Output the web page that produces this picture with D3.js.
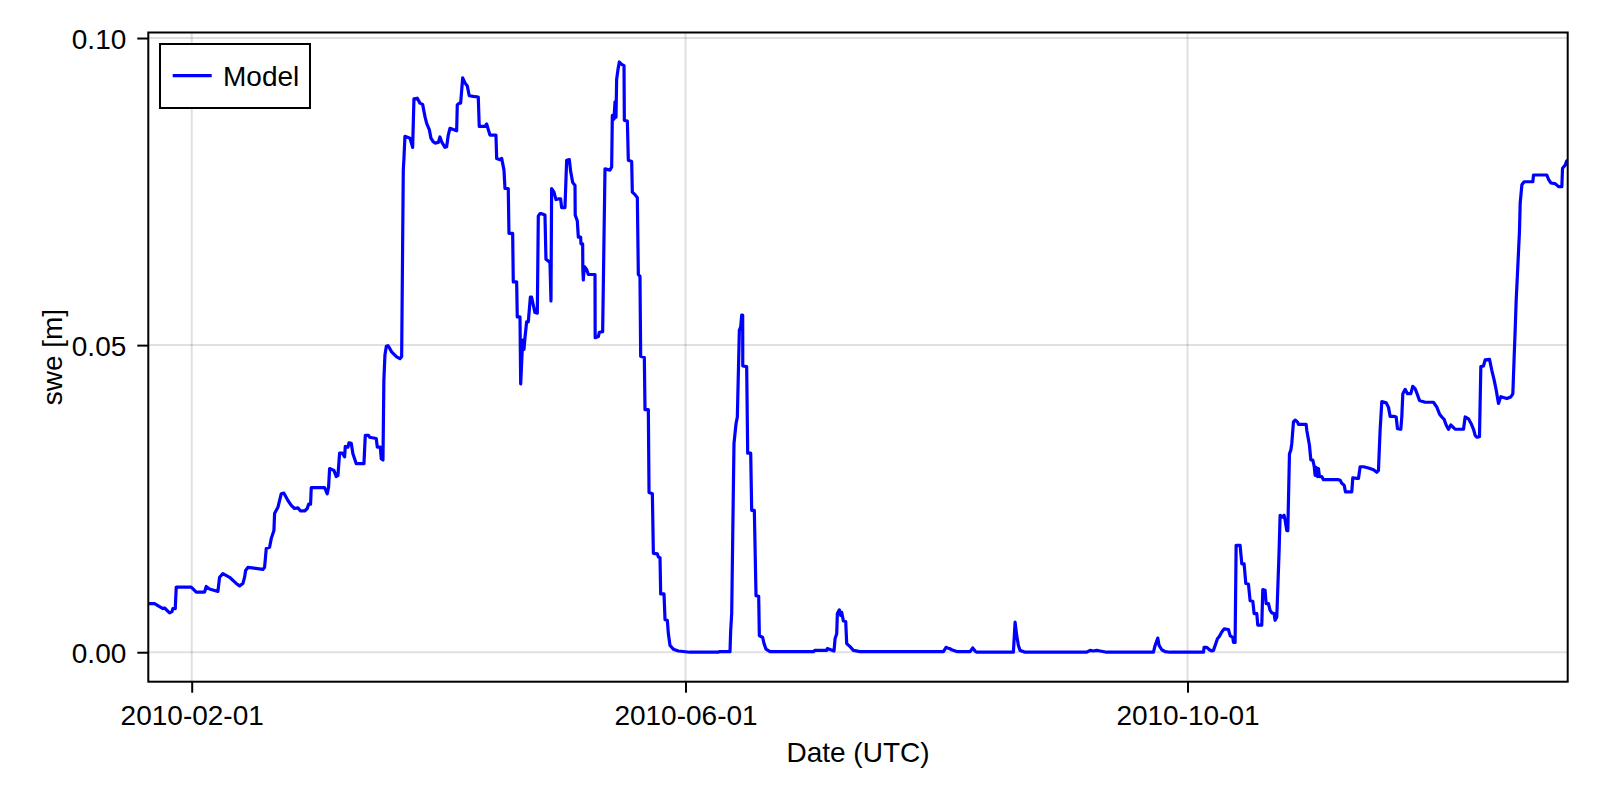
<!DOCTYPE html>
<html>
<head>
<meta charset="utf-8">
<script src="https://cdn.jsdelivr.net/npm/d3@7"></script>
<style>
  body { margin: 0; background: #ffffff; }
  svg { display: block; }
  text { font-family: "Liberation Sans", Arial, Helvetica, sans-serif; fill: #000; }
</style>
</head>
<body>
<svg id="chart" width="1600" height="800"></svg>
<script>
// ---------------- data ----------------
const startDate = "2010-02-01";           // day offsets below are counted from this date (UTC)
const dayOffset = [
  -10.55,-9.03,-7.0,-6.59,-5.38,-4.81,-4.57,-4.0,-3.76,-0.11,
  1.1,3.13,3.53,4.34,6.37,6.77,7.58,9.2,10.82,11.63,
  12.45,12.85,13.1,13.66,17.3,17.71,18.12,18.93,19.33,19.98,
  20.14,20.95,21.76,22.41,23.38,24.19,25.0,25.81,26.46,27.44,
  28.08,28.41,28.89,29.05,32.3,32.94,33.27,33.51,34.56,35.13,
  35.54,35.94,36.59,37.16,37.32,37.97,38.21,38.78,39.18,39.99,
  41.86,42.18,42.99,43.24,44.85,45.1,45.83,46.07,46.48,46.7,
  46.96,47.3,47.69,48.1,48.58,49.8,50.61,51.02,51.42,51.58,
  51.82,53.04,53.69,54.01,54.82,55.47,56.12,56.69,57.1,57.74,
  58.14,58.71,59.12,59.93,60.33,60.74,61.55,61.96,62.35,62.76,
  63.57,64.39,64.54,65.02,65.36,65.85,66.41,66.97,67.45,68.42,
  69.64,69.88,71.27,71.68,72.07,72.48,73.94,74.11,74.91,75.33,
  75.89,76.13,76.93,77.1,78.0,78.15,78.97,79.12,79.78,79.95,
  80.43,80.75,80.99,81.4,81.8,82.3,82.6,83.02,83.42,83.99,
  84.23,84.64,85.04,85.85,86.09,86.66,87.07,87.31,87.47,88.04,
  88.53,89.09,89.66,89.9,90.71,91.12,91.77,92.09,92.58,93.15,
  93.2,93.71,93.96,94.52,94.6,95.01,95.05,95.17,95.41,95.98,
  96.39,98.01,98.05,98.82,99.06,99.87,100.44,101.65,102.06,102.22,
  102.63,102.87,103.11,103.27,103.6,103.92,104.49,105.06,105.14,105.87,
  106.11,106.92,107.08,107.73,108.3,108.54,108.94,109.11,110.0,110.16,
  110.97,111.14,111.95,112.19,113.16,113.41,113.81,113.97,114.78,115.03,
  115.59,115.84,116.24,117.05,118.27,121.1,127.99,128.23,130.82,130.98,
  131.23,131.63,131.79,132.28,132.6,133.09,133.42,133.66,133.9,133.92,
  134.87,135.12,135.85,136.09,136.73,137.14,137.79,137.95,138.76,139.09,
  139.57,140.54,151.08,151.48,154.32,154.48,156.1,156.35,156.75,156.91,
  157.4,157.72,157.96,158.37,158.94,159.18,159.99,160.8,162.42,182.68,
  183.33,183.65,184.14,184.7,185.92,189.16,189.81,190.37,190.78,199.69,
  200.1,200.5,200.91,201.31,202.53,217.52,218.33,219.14,219.95,220.76,
  222.38,233.72,234.13,234.78,235.1,235.75,236.56,237.77,245.88,246.04,
  246.69,247.33,247.9,248.31,249.28,249.77,250.33,250.9,251.95,252.36,
  253.0,253.17,253.57,253.82,254.79,255.2,255.76,256.17,256.81,257.22,
  257.87,258.19,258.84,259.08,260.05,260.3,260.86,261.11,261.67,262.08,
  262.49,263.05,263.29,263.7,264.27,264.51,265.16,265.48,265.73,266.13,
  266.38,266.78,267.11,267.35,267.75,268.16,268.72,268.97,270.83,271.0,
  271.64,271.97,272.45,272.78,273.02,273.26,273.59,273.83,274.07,274.64,
  275.04,278.69,279.1,279.5,280.07,280.39,281.93,282.17,283.15,283.55,
  283.96,284.77,285.98,287.2,288.01,288.41,288.8,289.22,290.28,290.84,
  291.25,292.22,292.71,293.03,293.84,294.09,294.33,294.9,295.46,296.27,
  296.76,297.33,297.73,298.38,299.76,301.78,302.59,303.24,303.81,304.38,
  304.86,305.43,306.0,306.48,307.05,309.08,309.48,310.29,310.94,311.51,
  311.91,312.32,312.96,313.29,313.93,314.34,315.4,315.96,316.53,317.02,
  317.58,317.82,318.15,319.61,320.42,320.82,321.07,321.39,321.63,321.88,
  322.2,322.69,322.85,323.26,323.82,325.93,326.09,329.33,329.73,330.3,
  331.35,332.17,332.98,333.14,333.79,334.1,334.4
];
const sweModel = [
  .0079,.0079,.0071,.0072,.0064,.0066,.0071,.0071,.0106,.0106,
  .0098,.0098,.0107,.0103,.0099,.0122,.0128,.0122,.0112,.0108,
  .0112,.0122,.0133,.0138,.0135,.0138,.0169,.0171,.0185,.0198,
  .0226,.0236,.0258,.0259,.0247,.0239,.0234,.0235,.0230,.0230,
  .0234,.0241,.0241,.0268,.0268,.0258,.0269,.0299,.0296,.0286,
  .0288,.0324,.0324,.0318,.0335,.0334,.0341,.0340,.0323,.0307,
  .0307,.0353,.0353,.0350,.0348,.0334,.0334,.0315,.0313,.0443,
  .0484,.0498,.0499,.0495,.0489,.0481,.0478,.0481,.0785,.0804,
  .0840,.0837,.0822,.0901,.0902,.0894,.0892,.0872,.0861,.0851,
  .0837,.0831,.0829,.0830,.0839,.0831,.0822,.0823,.0842,.0853,
  .0851,.0849,.0891,.0894,.0894,.0935,.0927,.0922,.0906,.0905,
  .0904,.0856,.0856,.0860,.0851,.0842,.0842,.0804,.0802,.0804,
  .0785,.0755,.0755,.0682,.0682,.0603,.0603,.0546,.0546,.0437,
  .0508,.0493,.0512,.0538,.0538,.0578,.0578,.0565,.0553,.0552,
  .0710,.0714,.0714,.0712,.0640,.0637,.0634,.0572,.0755,.0749,
  .0737,.0738,.0738,.0724,.0724,.0801,.0802,.0783,.0765,.0760,
  .0712,.0702,.0676,.0676,.0665,.0665,.0625,.0606,.0628,.0623,
  .0615,.0615,.0512,.0514,.0521,.0522,.0787,.0785,.0790,.0874,
  .0868,.0896,.0871,.0933,.0949,.0961,.0957,.0955,.0866,.0865,
  .0801,.0799,.0749,.0745,.0740,.0615,.0612,.0482,.0480,.0395,
  .0395,.0260,.0258,.0161,.0160,.0155,.0154,.0095,.0095,.0053,
  .0052,.0030,.0011,.0005,.0002,0,0,.0001,.0001,.0035,
  .0063,.0264,.0340,.0372,.0383,.0524,.0530,.0549,.0549,.0466,
  .0465,.0324,.0324,.0231,.0231,.0092,.0091,.0027,.0024,.0014,
  .0005,.0001,.0001,.0003,.0003,.0006,.0002,.0022,.0030,.0063,
  .0069,.0060,.0065,.0051,.0050,.0014,.0009,.0003,.0001,.0001,
  .0008,.0007,.0006,.0004,.0001,.0001,.0007,.0002,0,0,
  .0049,.0027,.0011,.0003,0,0,.0003,.0002,.0003,.0002,
  0,0,.0011,.0023,.0011,.0004,.0001,0,0,.0008,
  .0008,.0004,.0002,.0003,.0022,.0026,.0033,.0038,.0037,.0027,
  .0024,.0016,.0016,.0174,.0174,.0144,.0144,.0112,.0111,.0084,
  .0083,.0063,.0063,.0044,.0044,.0102,.0101,.0079,.0079,.0068,
  .0064,.0063,.0052,.0057,.0166,.0223,.0220,.0223,.0215,.0198,
  .0198,.0323,.0329,.0340,.0375,.0378,.0375,.0371,.0371,.0361,
  .0337,.0313,.0313,.0303,.0288,.0301,.0286,.0299,.0286,.0286,
  .0281,.0281,.0280,.0275,.0272,.0261,.0261,.0284,.0283,.0283,
  .0302,.0302,.0300,.0297,.0293,.0296,.0360,.0408,.0406,.0399,
  .0384,.0384,.0383,.0364,.0363,.0384,.0421,.0428,.0421,.0421,
  .0433,.0429,.0422,.0410,.0407,.0407,.0399,.0388,.0383,.0379,
  .0370,.0363,.0370,.0367,.0363,.0363,.0383,.0380,.0372,.0363,
  .0353,.0350,.0351,.0465,.0466,.0476,.0477,.0459,.0443,.0427,
  .0405,.0410,.0416,.0413,.0415,.0418,.0421,.0481,.0524,.0573,
  .0617,.0687,.0731,.0761,.0766,.0766,.0777,.0777,.0770,.0764,
  .0763,.0758,.0758,.0788,.0793,.0799,.0801
];
const xTickLabels = ["2010-02-01", "2010-06-01", "2010-10-01"];
const yTickValues = [0.00, 0.05, 0.10];
const yDomain = [-0.0048, 0.1009];
const seriesName = "Model";
const xAxisTitle = "Date (UTC)";
const yAxisTitle = "swe [m]";

// ---------------- chart ----------------
const W = 1600, H = 800;
const margin = { left: 148.3, top: 32.5, right: 32.3, bottom: 118.3 };
const FONT = 28;
const LINE_COLOR = "#0000ff";
const GRID_COLOR = "rgba(0,0,0,0.12)";

const t0 = Date.parse(startDate + "T00:00:00Z");
const n = Math.min(dayOffset.length, sweModel.length);
if (dayOffset.length !== sweModel.length) console.warn("length mismatch", dayOffset.length, sweModel.length);
const data = d3.range(n).map(i => ({ date: new Date(t0 + dayOffset[i] * 864e5), v: sweModel[i] }));

const x = d3.scaleUtc()
  .domain(d3.extent(data, d => d.date))
  .range([margin.left, W - margin.right]);
const y = d3.scaleLinear()
  .domain(yDomain)
  .range([H - margin.bottom, margin.top]);

const svg = d3.select("#chart");
svg.append("rect").attr("width", W).attr("height", H).attr("fill", "#fff");

const xTickDates = xTickLabels.map(s => new Date(Date.parse(s + "T00:00:00Z")));

// grid
const grid = svg.append("g");
grid.selectAll("line.vx").data(xTickDates).join("line")
  .attr("x1", d => x(d)).attr("x2", d => x(d))
  .attr("y1", margin.top).attr("y2", H - margin.bottom)
  .attr("stroke", GRID_COLOR).attr("stroke-width", 2);
grid.selectAll("line.hy").data(yTickValues).join("line")
  .attr("x1", margin.left).attr("x2", W - margin.right)
  .attr("y1", d => y(d)).attr("y2", d => y(d))
  .attr("stroke", GRID_COLOR).attr("stroke-width", 2);

// clip
svg.append("clipPath").attr("id", "plotclip").append("rect")
  .attr("x", margin.left).attr("y", margin.top)
  .attr("width", W - margin.left - margin.right)
  .attr("height", H - margin.top - margin.bottom);

// line
const line = d3.line().x(d => x(d.date)).y(d => y(d.v));
svg.append("path")
  .datum(data)
  .attr("clip-path", "url(#plotclip)")
  .attr("fill", "none")
  .attr("stroke", LINE_COLOR)
  .attr("stroke-width", 3.2)
  .attr("stroke-linejoin", "round")
  .attr("d", line);

// axes
const xAxis = d3.axisBottom(x)
  .tickValues(xTickDates)
  .tickFormat(d3.utcFormat("%Y-%m-%d"))
  .tickSize(11).tickPadding(12);
const gx = svg.append("g")
  .attr("transform", `translate(0,${H - margin.bottom})`)
  .call(xAxis);
gx.select(".domain").remove();
gx.selectAll(".tick line").attr("stroke", "#000").attr("stroke-width", 2);
gx.selectAll(".tick text").attr("font-size", FONT).attr("font-family", "Liberation Sans, Arial, sans-serif").attr("fill", "#000");

const yAxis = d3.axisLeft(y)
  .tickValues(yTickValues)
  .tickFormat(d3.format(".2f"))
  .tickSize(11).tickPadding(11);
const gy = svg.append("g")
  .attr("transform", `translate(${margin.left},0)`)
  .call(yAxis);
gy.select(".domain").remove();
gy.selectAll(".tick line").attr("stroke", "#000").attr("stroke-width", 2);
gy.selectAll(".tick text").attr("font-size", FONT).attr("dy", "0.36em").attr("font-family", "Liberation Sans, Arial, sans-serif").attr("fill", "#000");

// frame
svg.append("rect")
  .attr("x", margin.left).attr("y", margin.top)
  .attr("width", W - margin.left - margin.right)
  .attr("height", H - margin.top - margin.bottom)
  .attr("fill", "none").attr("stroke", "#000").attr("stroke-width", 2);

// axis titles
svg.append("text")
  .attr("x", (margin.left + W - margin.right) / 2)
  .attr("y", 762)
  .attr("text-anchor", "middle")
  .attr("font-size", FONT)
  .text(xAxisTitle);
svg.append("text")
  .attr("transform", `translate(62,${(margin.top + H - margin.bottom) / 2}) rotate(-90)`)
  .attr("text-anchor", "middle")
  .attr("font-size", FONT)
  .text(yAxisTitle);

// legend
const lg = svg.append("g").attr("transform", "translate(160,44)");
lg.append("rect").attr("width", 150).attr("height", 64)
  .attr("fill", "#fff").attr("stroke", "#000").attr("stroke-width", 2);
lg.append("line").attr("x1", 12.7).attr("x2", 51.7).attr("y1", 31.7).attr("y2", 31.7)
  .attr("stroke", LINE_COLOR).attr("stroke-width", 3.2);
lg.append("text").attr("x", 63).attr("y", 41.8).attr("font-size", FONT).text(seriesName);
</script>
</body>
</html>
